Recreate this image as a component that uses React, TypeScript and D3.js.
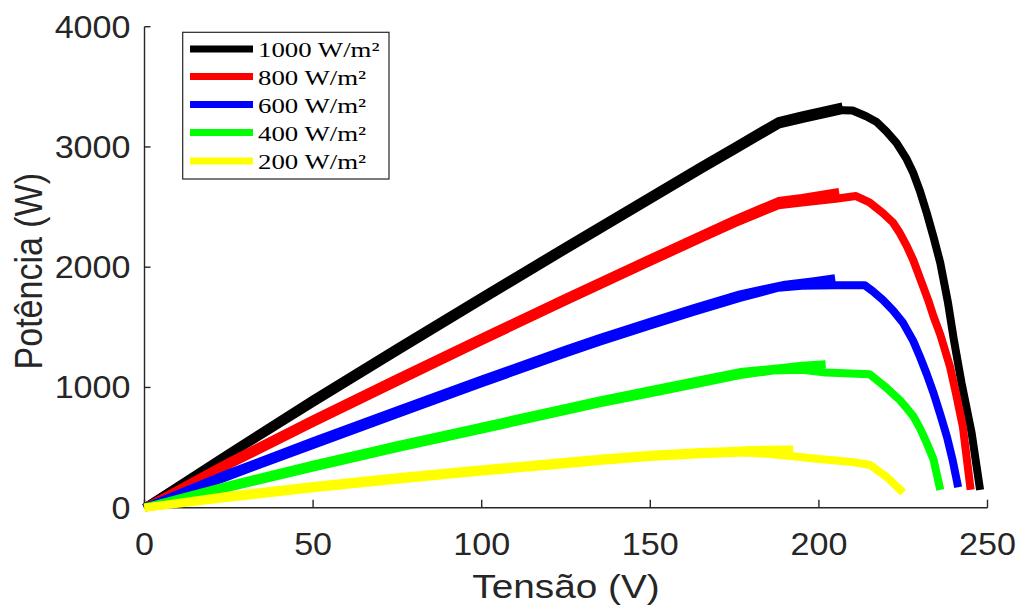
import React from 'react';
import * as d3 from 'd3';

type Pt = [number, number];

const xTicks = [0, 50, 100, 150, 200, 250];
const yTicks = [0, 1000, 2000, 3000, 4000];
const xLabel = 'Tensão (V)';
const yLabel = 'Potência (W)';
const seriesLabels = ['1000 W/m²', '800 W/m²', '600 W/m²', '400 W/m²', '200 W/m²'];
const seriesColors = ['#000000', '#ff0000', '#0000ff', '#00ff00', '#ffff00'];

// main P-V traces (V, P)
const curve1000: Pt[] = [[0,0],[25,438],[50,871],[75,1300],[100,1725],[125,2145],[150,2561],[165,2809],[175,2973],[188,3185],[195,3232],[200,3262],[207,3306],[210,3303],[214,3255],[217,3210],[220,3130],[223,3033],[226,2900],[228,2783],[230,2630],[232,2450],[234,2250],[236,2035],[238.3,1702],[240,1400],[242.3,1037],[245.3,621],[247.8,148]];
const curve800: Pt[] = [[0,0],[25,355],[50,704],[75,1047],[100,1385],[125,1717],[150,2044],[165,2237],[175,2365],[188,2515],[195,2538],[205,2570],[211,2592],[215,2540],[219,2450],[222,2370],[224,2284],[226,2180],[228,2058],[231,1833],[232.4,1727],[234,1590],[236,1440],[238.9,1171],[240.8,930],[242.7,672],[245,150]];
const curve600: Pt[] = [[0,0],[25,262],[50,522],[75,780],[100,1035],[125,1285],[135,1380],[150,1515],[163,1630],[176.6,1744],[188,1830],[195,1845],[205,1850],[213.6,1850],[216,1800],[219,1727],[222,1640],[225,1535],[228,1385],[230,1253],[232,1110],[234,953],[236,775],[238,587],[239.7,390],[241.3,170]];
const curve400: Pt[] = [[0,0],[25,168],[50,333],[75,495],[100,650],[125,805],[135,868],[150,952],[165,1037],[176.6,1103],[186.4,1140],[195,1148],[202,1125],[215,1110],[220,998],[224,895],[226,830],[228,760],[230,660],[232,537],[234,400],[236,148]];
const curve200: Pt[] = [[0,0],[25,83],[50,161],[75,233],[100,300],[125,362],[135,388],[150,421],[165,445],[178,460],[186,445],[192.4,428],[200,405],[210,380],[215.2,355],[220,258],[225,125]];

// secondary (tracking) traces that thicken the rising part and the knee
const track1000: Pt[] = [[0,0],[25,455],[50,900],[75,1330],[100,1755],[125,2175],[150,2591],[165,2839],[175,3003],[188,3215],[195,3262],[207,3338]];
const track800: Pt[] = [[0,0],[25,380],[50,734],[75,1077],[100,1415],[125,1747],[150,2074],[165,2267],[175,2395],[188,2550],[195,2575],[206,2625]];
const track600: Pt[] = [[0,0],[25,287],[50,552],[75,810],[100,1065],[125,1315],[135,1410],[150,1545],[163,1660],[176.6,1774],[190,1855],[198,1882],[204.8,1908]];
const track400: Pt[] = [[0,0],[25,185],[50,358],[75,520],[100,675],[125,830],[135,893],[150,977],[165,1062],[176.6,1128],[189,1162],[195,1180],[202,1192]];
const track200: Pt[] = [[0,0],[25,100],[50,181],[75,253],[100,320],[125,382],[135,408],[150,441],[165,463],[172,470],[180,480],[192.4,485]];

const curves = [curve1000, curve800, curve600, curve400, curve200];
const tracks = [track1000, track800, track600, track400, track200];

const W = 1018;
const H = 611;
const axisColor = '#262626';
const sans = '"Liberation Sans", Arial, Helvetica, sans-serif';

export default function App() {
  const x = d3.scaleLinear().domain([0, 250]).range([144.5, 987.5]);
  const y = d3.scaleLinear().domain([0, 4000]).range([507.7, 26.7]);
  const line = d3.line<Pt>().x(d => x(d[0])).y(d => y(d[1]));

  const tickFont = 31;
  const tickSx = 1.1;
  const labelFont = 34;
  const labelSx = 1.14;

  const legX = 182.7, legY = 32.3, legW = 206.3, legH = 146.7;
  const rowY = [49, 76.5, 104.5, 132.5, 161];

  return (
    <svg width={W} height={H} style={{ position: 'absolute', left: 0, top: 0, background: '#fff' }}>
      <rect x={0} y={0} width={W} height={H} fill="#fff" />
      {/* axes */}
      <line x1={x(0)} x2={x(250)} y1={y(0)} y2={y(0)} stroke={axisColor} strokeWidth={1.4} />
      <line x1={x(0)} x2={x(0)} y1={y(0)} y2={y(4000)} stroke={axisColor} strokeWidth={1.4} />
      {xTicks.map(t => (
        <g key={'xt' + t}>
          <line x1={x(t)} x2={x(t)} y1={y(0)} y2={y(0) - 8} stroke={axisColor} strokeWidth={1.4} />
          <text transform={`translate(${x(t)},${y(0) + 47}) scale(${tickSx},1)`} textAnchor="middle"
            fontFamily={sans} fontSize={tickFont} fill={axisColor}>{t}</text>
        </g>
      ))}
      {yTicks.map(t => (
        <g key={'yt' + t}>
          <line x1={x(0)} x2={x(0) + 6} y1={y(t)} y2={y(t)} stroke={axisColor} strokeWidth={1.4} />
          <text transform={`translate(${x(0) - 14},${y(t) + 11}) scale(${tickSx},1)`} textAnchor="end"
            fontFamily={sans} fontSize={tickFont} fill={axisColor}>{t}</text>
        </g>
      ))}
      <text transform={`translate(${(x(0) + x(250)) / 2},${598}) scale(${labelSx},1)`} textAnchor="middle"
        fontFamily={sans} fontSize={labelFont} fill={axisColor}>{xLabel}</text>
      <text transform={`translate(${42},${y(2000) + 4}) scale(${labelSx},1) rotate(-90)`} textAnchor="middle"
        fontFamily={sans} fontSize={labelFont} fill={axisColor}>{yLabel}</text>

      {/* curves */}
      {curves.map((c, i) => (
        <g key={'c' + i}>
          <path d={line(tracks[i]) || ''} fill="none" stroke={seriesColors[i]} strokeWidth={8} strokeLinejoin="round" strokeLinecap="butt" />
          <path d={line(c) || ''} fill="none" stroke={seriesColors[i]} strokeWidth={8} strokeLinejoin="round" strokeLinecap="butt" />
        </g>
      ))}

      {/* legend */}
      <rect x={legX} y={legY} width={legW} height={legH} fill="#fff" stroke={axisColor} strokeWidth={1.2} />
      {seriesLabels.map((lab, i) => (
        <g key={'l' + i}>
          <line x1={190} x2={253} y1={rowY[i]} y2={rowY[i]} stroke={seriesColors[i]} strokeWidth={7} />
          <text transform={`translate(${258},${rowY[i] + 8}) scale(1.22,1)`} fontFamily='"Liberation Serif", "Times New Roman", serif'
            fontSize={22} fill="#000">{lab}</text>
        </g>
      ))}
    </svg>
  );
}
